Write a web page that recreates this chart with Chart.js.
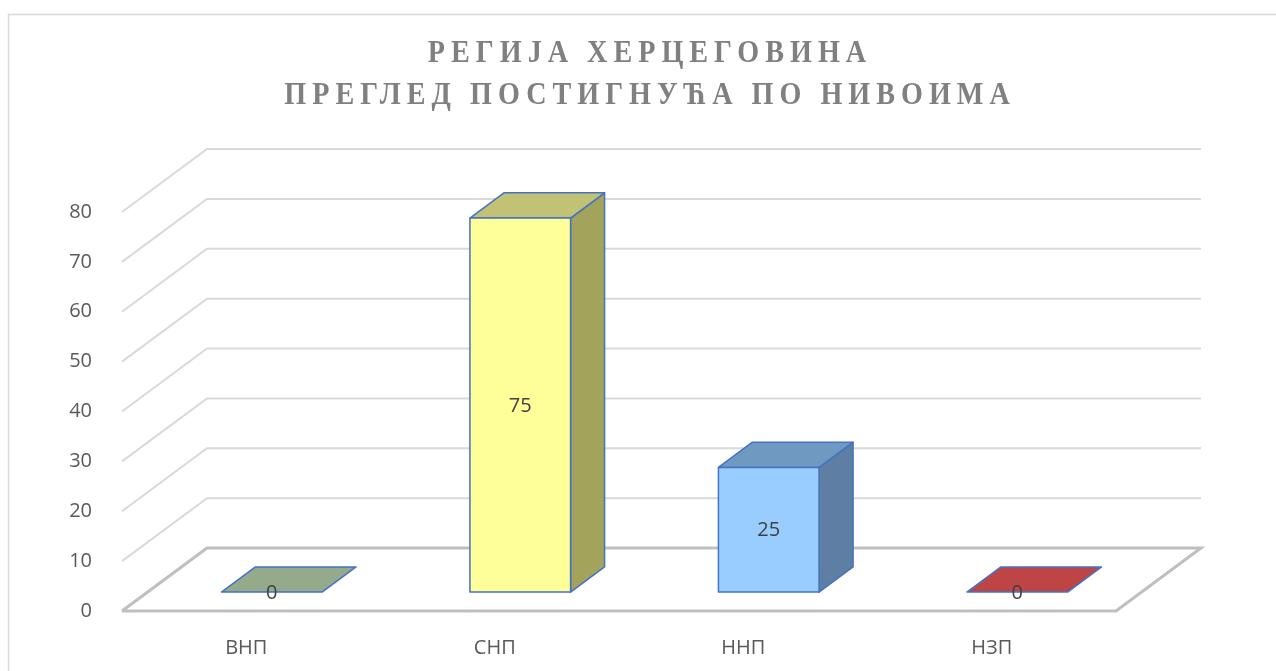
<!DOCTYPE html>
<html>
<head>
<meta charset="utf-8">
<script src="https://cdn.jsdelivr.net/npm/chart.js@4"></script>
<style>
  body { margin: 0; background: #fff; }
  canvas { display: block; }
</style>
</head>
<body>
<canvas id="chart" width="1276" height="671"></canvas>
<script>
// podaci
const categories = ['ВНП', 'СНП', 'ННП', 'НЗП'];
const values = [0, 75, 25, 0];
const yMin = 0;
const yMax = 80;
const yStep = 10;
const titleLines = ['РЕГИЈА ХЕРЦЕГОВИНА', 'ПРЕГЛЕД ПОСТИГНУЋА ПО НИВОИМА'];

// boje stubova: prednja, bočna i gornja strana
const frontColors = ['#c3d69b', '#ffff99', '#99ccff', '#e6b9b8'];
const sideColors = ['#7a8a6b', '#a3a35c', '#5f7ea3', '#8f3330'];
const topColors = ['#95a98b', '#c2c277', '#7099c2', '#be4545'];

// 3D dubina (pikseli)
const DX = 85, DY = -63;
const BAR_FRONT = 0.3, BAR_DEPTH = 0.4;

const fontTicks = { family: 'Open Sans', size: 20 };

function linija(ctx, pts, color, width) {
    ctx.beginPath();
    ctx.moveTo(pts[0][0], pts[0][1]);
    for (let i = 1; i < pts.length; i++) ctx.lineTo(pts[i][0], pts[i][1]);
    ctx.strokeStyle = color;
    ctx.lineWidth = width;
    ctx.stroke();
}

function poligon(ctx, pts, fill) {
    ctx.beginPath();
    ctx.moveTo(pts[0][0], pts[0][1]);
    for (let i = 1; i < pts.length; i++) ctx.lineTo(pts[i][0], pts[i][1]);
    ctx.closePath();
    ctx.fillStyle = fill;
    ctx.fill();
    ctx.strokeStyle = '#4472c4';
    ctx.lineWidth = 1.5;
    ctx.lineJoin = 'round';
    ctx.stroke();
}

const plugin3d = {
    id: 'plugin3d',
    beforeDraw(chart) {
        const ctx = chart.ctx;
        ctx.save();
        ctx.fillStyle = '#fff';
        ctx.fillRect(0, 0, chart.width, chart.height);
        ctx.strokeStyle = '#d9d9d9';
        ctx.lineWidth = 1.5;
        ctx.strokeRect(8.5, 14.5, chart.width + 20, chart.height + 20);
        ctx.restore();
    },
    /** zidovi i pod */
    beforeDatasetsDraw(chart) {
        const ctx = chart.ctx;
        const y = chart.scales.y;
        const left = chart.chartArea.left, right = chart.chartArea.right;
        ctx.save();
        y.ticks.forEach(t => {
            const py = y.getPixelForValue(t.value);
            if (t.value === yMin) return;
            linija(ctx, [[left, py], [left + DX, py + DY], [right + DX, py + DY]], '#d9d9d9', 2);
        });
        const p0 = y.getPixelForValue(yMin);
        linija(ctx, [[left, p0], [left + DX, p0 + DY], [right + DX, p0 + DY], [right, p0], [left, p0]], '#bfbfbf', 3);
        ctx.restore();
    },
    afterDatasetsDraw(chart) {
        const ctx = chart.ctx;
        const meta = chart.getDatasetMeta(0);
        ctx.save();
        meta.data.forEach((el, i) => {
            const fx = DX * BAR_FRONT, fy = DY * BAR_FRONT;
            const bx = DX * BAR_DEPTH, by = DY * BAR_DEPTH;
            const l = el.x - el.width / 2 + fx, r = el.x + el.width / 2 + fx;
            const top = el.y + fy, bot = el.base + fy;
            if (bot - top > 0.5) {
                poligon(ctx, [[r, top], [r + bx, top + by], [r + bx, bot + by], [r, bot]], sideColors[i]);
            }
            poligon(ctx, [[l, top], [l + bx, top + by], [r + bx, top + by], [r, top]], topColors[i]);
            if (bot - top > 0.5) {
                poligon(ctx, [[l, top], [r, top], [r, bot], [l, bot]], frontColors[i]);
            }
            ctx.fillStyle = '#404040';
            ctx.font = '20px "Open Sans"';
            ctx.textAlign = 'center';
            ctx.textBaseline = 'middle';
            ctx.fillText(String(values[i]), (l + r) / 2, (top + bot) / 2 + 1);
        });
        ctx.restore();
    },
    afterDraw(chart) {
        const ctx = chart.ctx;
        const cx = 647, sx = 0.88, ls = 6;
        const baselines = [62, 104];
        ctx.save();
        ctx.fillStyle = '#808080';
        ctx.font = 'bold 32px "Liberation Serif"';
        ctx.textAlign = 'left';
        ctx.textBaseline = 'alphabetic';
        titleLines.forEach((t, i) => {
            ctx.save();
            ctx.translate(cx, baselines[i]);
            ctx.scale(sx, 1);
            ctx.letterSpacing = (ls / sx) + 'px';
            const w = ctx.measureText(t).width;
            ctx.fillText(t, -(w - ls / sx) / 2, 0);
            ctx.restore();
        });
        ctx.restore();
    }
};

new Chart(document.getElementById('chart'), {
    type: 'bar',
    data: {
        labels: categories,
        datasets: [{
            data: values,
            backgroundColor: 'rgba(0,0,0,0)',
            borderWidth: 0,
            barPercentage: 0.405,
            categoryPercentage: 1
        }]
    },
    options: {
        responsive: false,
        animation: false,
        layout: { padding: { top: 212, right: 160, left: 0, bottom: 0 } },
        plugins: {
            legend: { display: false },
            tooltip: { enabled: false }
        },
        scales: {
            x: {
                grid: { display: false },
                border: { display: false },
                ticks: { color: '#595959', font: fontTicks, padding: 17 },
                afterFit(s) { s.height = 60 }
            },
            y: {
                min: yMin,
                max: yMax,
                grid: { display: false },
                border: { display: false },
                ticks: { stepSize: yStep, color: '#595959', font: fontTicks, padding: 22 },
                afterFit(s) { s.width = 122 }
            }
        }
    },
    plugins: [plugin3d]
});
</script>
</body>
</html>
